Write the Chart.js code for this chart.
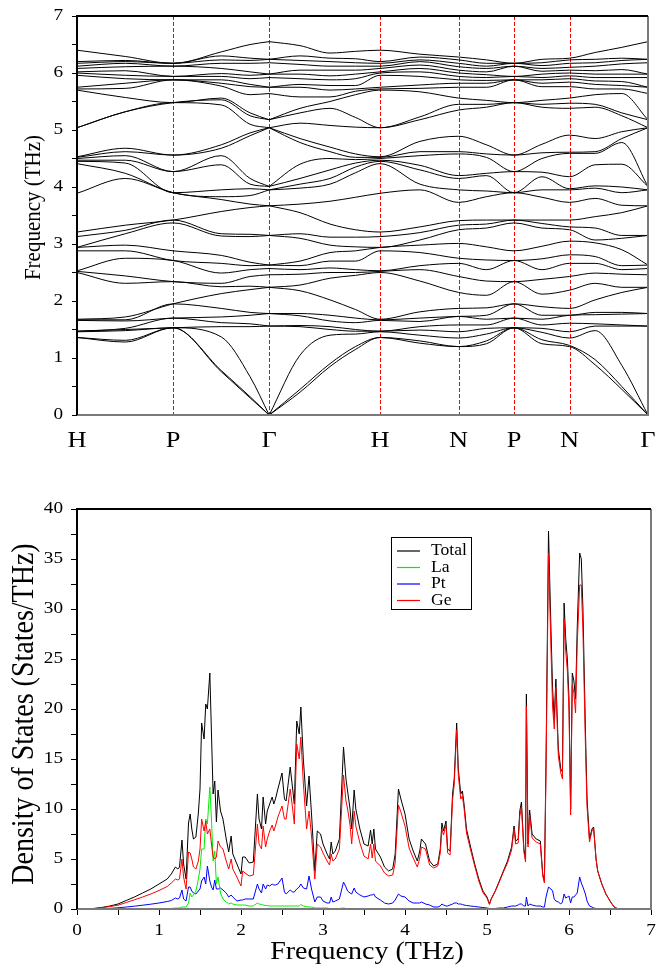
<!DOCTYPE html>
<html>
<head>
<meta charset="utf-8">
<script src="https://cdn.jsdelivr.net/npm/chart.js@4.4.0/dist/chart.umd.min.js"></script>
<style>
  html, body { margin: 0; padding: 0; background: #fff; }
  #bands { position: absolute; left: 0; top: 0; }
  #dos { position: absolute; left: 0; top: 490px; }
</style>
</head>
<body>
<canvas id="bands" width="669" height="460"></canvas>
<canvas id="dos" width="669" height="479"></canvas>
<script>
// high-symmetry path, distances in units of 2pi/a
const kLabels = ['H', 'P', 'Γ', 'H', 'N', 'P', 'N', 'Γ'];
const kTicks = [0, 0.866, 1.732, 2.732, 3.439, 3.939, 4.439, 5.146];

// k positions where the branches are sampled (index 5 is the first Gamma)
const kSamples = [0, 0.435, 0.866, 1.30, 1.56, 1.732, 2.01, 2.28, 2.51, 2.732,
                  3.09, 3.439, 3.69, 3.939, 4.19, 4.439, 4.67, 4.91, 5.146];

// 36 phonon frequencies (THz) at each sample, lowest first
const atH = [1.36, 1.36, 1.46, 1.47, 1.47, 1.66, 1.67, 1.68,
  2.50, 2.52, 2.53, 2.88, 2.94, 2.94, 3.13, 3.21,
  3.89, 4.41, 4.45, 4.47, 4.50, 4.52, 4.53,
  5.04, 5.04, 5.70, 5.72, 5.75, 5.96, 6.00, 6.02, 6.08, 6.12, 6.17, 6.20, 6.40];
const atP = [1.53, 1.53, 1.53, 1.53, 1.70, 1.70, 1.95, 1.95,
  2.34, 2.34, 2.71, 2.71, 2.88, 3.37, 3.42, 3.42,
  3.90, 3.90, 3.90, 4.27, 4.27, 4.56, 4.56,
  5.48, 5.48, 5.48, 5.88, 5.88, 5.88, 5.94, 5.94, 6.12, 6.12, 6.17, 6.17, 6.17];
const atGamma = [0, 0, 0, 1.56, 1.56, 1.78, 1.78, 2.24,
  2.24, 2.46, 2.57, 2.63, 2.63, 3.15, 3.15, 3.67,
  3.67, 3.95, 3.95, 4.01, 4.01, 5.04, 5.04,
  5.04, 5.18, 5.18, 5.64, 5.75, 5.75, 5.92, 5.98, 5.98, 6.18, 6.24, 6.24, 6.55];
const atN = [1.20, 1.20, 1.35, 1.46, 1.58, 1.73, 1.73, 1.87,
  2.15, 2.43, 2.66, 2.75, 3.01, 3.25, 3.33, 3.41,
  3.73, 3.95, 4.15, 4.20, 4.58, 4.62, 4.89,
  5.35, 5.45, 5.56, 5.75, 5.82, 5.88, 5.94, 6.00, 6.05, 6.11, 6.17, 6.23, 6.28];
const atN2 = [1.20, 1.22, 1.35, 1.46, 1.61, 1.75, 1.75, 1.87,
  2.19, 2.43, 2.66, 2.81, 3.05, 3.25, 3.30, 3.42,
  3.73, 3.95, 3.97, 4.18, 4.59, 4.61, 4.91,
  5.38, 5.47, 5.56, 5.76, 5.84, 5.90, 5.95, 6.00, 6.05, 6.10, 6.17, 6.23, 6.26];

const freqAtK = [
  atH,
  [1.28, 1.31, 1.48, 1.50, 1.52, 1.65, 1.67, 1.72,
   2.31, 2.44, 2.75, 2.88, 2.98, 3.18, 3.24, 3.33,
   4.15, 4.24, 4.42, 4.47, 4.55, 4.62, 4.68,
   5.32, 5.32, 5.57, 5.73, 5.82, 5.90, 5.96, 6.04, 6.11, 6.17, 6.20, 6.22, 6.29],
  atP,
  [0.76, 0.78, 1.37, 1.55, 1.62, 1.72, 1.87, 2.13,
   2.25, 2.31, 2.49, 2.66, 2.80, 3.14, 3.18, 3.57,
   3.78, 3.83, 3.95, 4.39, 4.55, 4.68, 4.74,
   5.44, 5.53, 5.56, 5.77, 5.82, 5.88, 5.94, 5.99, 6.08, 6.17, 6.23, 6.30, 6.37],
  [0.30, 0.32, 0.67, 1.55, 1.60, 1.75, 1.80, 2.20,
   2.26, 2.43, 2.55, 2.62, 2.68, 3.13, 3.17, 3.64,
   3.70, 3.85, 3.97, 4.05, 4.15, 4.90, 4.95,
   5.10, 5.25, 5.30, 5.62, 5.76, 5.80, 5.90, 5.96, 6.02, 6.17, 6.22, 6.26, 6.50],
  atGamma,
  [0.40, 0.45, 1.05, 1.55, 1.57, 1.74, 1.78, 2.18,
   2.28, 2.47, 2.55, 2.62, 2.70, 3.10, 3.18, 3.55,
   3.70, 3.98, 4.05, 4.15, 4.40, 4.78, 4.85,
   5.12, 5.30, 5.38, 5.58, 5.75, 5.80, 5.90, 5.98, 6.05, 6.15, 6.22, 6.30, 6.48],
  [0.85, 0.90, 1.40, 1.50, 1.55, 1.65, 1.75, 2.02,
   2.40, 2.50, 2.58, 2.70, 2.85, 2.98, 3.12, 3.35,
   3.75, 4.05, 4.15, 4.30, 4.50, 4.62, 4.70,
   5.08, 5.38, 5.50, 5.58, 5.70, 5.78, 5.88, 5.95, 6.05, 6.12, 6.20, 6.26, 6.35],
  [1.15, 1.20, 1.42, 1.47, 1.50, 1.62, 1.70, 1.85,
   2.45, 2.50, 2.55, 2.70, 2.88, 2.95, 3.12, 3.25,
   3.82, 4.25, 4.35, 4.42, 4.48, 4.52, 4.58,
   5.05, 5.22, 5.62, 5.68, 5.72, 5.78, 5.90, 5.98, 6.05, 6.12, 6.18, 6.25, 6.38],
  atH,
  [1.26, 1.30, 1.40, 1.49, 1.55, 1.64, 1.70, 1.81,
   2.35, 2.55, 2.62, 2.85, 2.98, 3.07, 3.20, 3.30,
   3.95, 4.05, 4.30, 4.38, 4.55, 4.62, 4.80,
   5.18, 5.23, 5.67, 5.73, 5.79, 5.94, 6.02, 6.08, 6.14, 6.20, 6.23, 6.28, 6.33],
  atN,
  [1.25, 1.30, 1.42, 1.52, 1.58, 1.68, 1.75, 1.88,
   2.10, 2.35, 2.55, 2.72, 2.95, 3.28, 3.35, 3.42,
   3.83, 3.93, 4.20, 4.24, 4.52, 4.58, 4.74,
   5.40, 5.45, 5.52, 5.75, 5.82, 5.87, 5.92, 5.97, 6.02, 6.08, 6.12, 6.17, 6.23],
  atP,
  [1.25, 1.32, 1.45, 1.52, 1.58, 1.68, 1.75, 1.90,
   2.12, 2.38, 2.55, 2.74, 2.96, 3.28, 3.36, 3.42,
   3.82, 3.95, 4.18, 4.26, 4.50, 4.60, 4.75,
   5.40, 5.45, 5.52, 5.76, 5.82, 5.88, 5.92, 5.98, 6.03, 6.08, 6.13, 6.18, 6.24],
  atN2,
  [0.88, 0.97, 1.48, 1.56, 1.60, 1.76, 1.80, 2.02,
   2.31, 2.49, 2.66, 2.78, 3.02, 3.07, 3.28, 3.48,
   3.80, 3.98, 4.02, 4.39, 4.59, 4.62, 4.85,
   5.40, 5.45, 5.62, 5.72, 5.80, 5.86, 5.92, 5.98, 6.04, 6.12, 6.18, 6.24, 6.36],
  [0.45, 0.50, 0.87, 1.56, 1.58, 1.77, 1.80, 2.15,
   2.24, 2.47, 2.55, 2.62, 2.90, 3.10, 3.15, 3.55,
   3.68, 3.90, 4.00, 4.40, 4.78, 4.85, 4.97,
   5.25, 5.30, 5.64, 5.72, 5.78, 5.85, 5.92, 5.98, 6.06, 6.16, 6.22, 6.26, 6.45],
  atGamma
];

// phonon DOS (States/THz) on a common frequency grid (THz)
const dosFreq = [
  0, 0.2, 0.3, 0.4, 0.5, 0.6, 0.7, 0.8, 0.9, 1.0,
  1.1, 1.15, 1.2, 1.23, 1.25, 1.28, 1.3, 1.33, 1.36, 1.38,
  1.4, 1.42, 1.45, 1.48, 1.5, 1.52, 1.55, 1.57, 1.59, 1.62,
  1.64, 1.66, 1.68, 1.7, 1.72, 1.75, 1.78, 1.82, 1.85, 1.88,
  1.9, 1.95, 2.0, 2.02, 2.05, 2.1, 2.15, 2.2, 2.22, 2.25,
  2.27, 2.3, 2.32, 2.35, 2.38, 2.4, 2.42, 2.45, 2.5, 2.53,
  2.55, 2.6, 2.63, 2.65, 2.68, 2.71, 2.73, 2.76, 2.8, 2.83,
  2.86, 2.9, 2.93, 2.97, 3.0, 3.05, 3.08, 3.1, 3.12, 3.15,
  3.2, 3.25, 3.28, 3.3, 3.33, 3.35, 3.38, 3.4, 3.45, 3.5,
  3.55, 3.58, 3.6, 3.62, 3.64, 3.7, 3.75, 3.8, 3.85, 3.88,
  3.92, 3.95, 4.0, 4.05, 4.1, 4.15, 4.18, 4.2, 4.25, 4.3,
  4.35, 4.4, 4.43, 4.45, 4.47, 4.5, 4.52, 4.55, 4.58, 4.6,
  4.63, 4.65, 4.68, 4.7, 4.72, 4.75, 4.8, 4.85, 4.9, 4.95,
  5.0, 5.03, 5.05, 5.1, 5.15, 5.2, 5.25, 5.3, 5.33, 5.35,
  5.38, 5.4, 5.42, 5.45, 5.47, 5.48, 5.5, 5.52, 5.55, 5.6,
  5.65, 5.68, 5.7, 5.72, 5.75, 5.78, 5.8, 5.82, 5.84, 5.87,
  5.9, 5.92, 5.94, 5.96, 5.98, 6.0, 6.02, 6.04, 6.06, 6.08,
  6.1, 6.13, 6.15, 6.17, 6.2, 6.22, 6.25, 6.28, 6.3, 6.33,
  6.35, 6.4, 6.45, 6.5, 6.55, 6.6, 6.75
];
const dosTotal = [
  0, 0.05, 0.15, 0.3, 0.5, 0.85, 1.2, 1.6, 2.0, 2.5,
  3.0, 3.5, 4.2, 4.0, 4.2, 6.9, 4.5, 3.0, 8.6, 9.5,
  8.0, 7.0, 7.2, 9.6, 12.0, 18.6, 17.0, 20.5, 20.0, 23.6,
  17.5, 11.5, 12.8, 8.7, 11.9, 9.8, 9.0, 7.0, 5.7, 7.3,
  5.5, 4.5, 3.5, 5.2, 5.2, 4.6, 4.7, 11.5, 9.0, 8.0,
  11.2, 8.5, 9.8, 10.5, 11.2, 10.5, 11.0, 12.0, 13.6, 11.0,
  10.8, 14.2, 12.0, 10.5, 18.8, 17.5, 20.2, 15.0, 10.3, 13.3,
  9.5, 3.8, 7.8, 7.5, 6.5, 5.5, 5.0, 6.7, 5.5, 5.8,
  7.0, 16.2, 13.0, 11.8, 10.0, 8.0, 11.9, 10.0, 8.0, 6.5,
  6.3, 7.9, 6.5, 8.0, 6.0, 5.2, 4.2, 3.8, 4.0, 5.5,
  12.0, 11.0, 9.5, 7.0, 5.8, 4.8, 5.8, 7.0, 6.5, 4.8,
  4.3, 4.5, 6.0, 8.6, 7.8, 8.8, 6.0, 5.8, 11.5, 13.0,
  18.6, 14.0, 11.5, 11.8, 10.5, 8.0, 6.2, 4.5, 3.0, 1.8,
  1.2, 0.5, 1.0, 1.8, 2.8, 3.8, 4.8, 6.2, 8.3, 6.8,
  7.0, 9.8, 10.7, 6.0, 5.0, 21.5, 6.5, 9.9, 7.5, 7.0,
  6.8, 3.5, 2.8, 15.0, 37.8, 28.0, 22.0, 19.0, 23.0, 16.0,
  14.0, 13.7, 30.6, 27.0, 25.0, 21.0, 10.0, 23.6, 22.8, 21.0,
  28.0, 35.6, 35.0, 30.0, 18.0, 11.0, 7.0, 8.0, 8.2, 5.0,
  3.8, 2.5, 1.5, 0.8, 0.2, 0, 0
];
const dosLa = [
  0, 0, 0, 0, 0, 0, 0, 0.02, 0.02, 0.05,
  0.05, 0.05, 0.1, 0.1, 0.1, 0.2, 0.2, 0.2, 0.6, 1.6,
  1.2, 1.4, 1.8, 3.0, 4.0, 6.0, 6.0, 9.0, 8.5, 12.2,
  9.0, 4.8, 5.8, 2.5, 3.2, 1.6, 1.0, 0.7, 0.5, 0.6,
  0.5, 0.4, 0.4, 0.4, 0.4, 0.3, 0.3, 0.6, 0.5, 0.45,
  0.4, 0.35, 0.35, 0.3, 0.3, 0.3, 0.3, 0.3, 0.3, 0.3,
  0.3, 0.3, 0.3, 0.3, 0.3, 0.3, 0.45, 0.3, 0.25, 0.2,
  0.2, 0.1, 0.1, 0.1, 0.1, 0.1, 0.05, 0.05, 0.05, 0.05,
  0.05, 0.1, 0.05, 0.05, 0.05, 0.05, 0.05, 0.05, 0.05, 0.05,
  0.05, 0.05, 0.05, 0.05, 0.05, 0.05, 0.05, 0.05, 0.05, 0.05,
  0.05, 0.05, 0.05, 0.05, 0.05, 0.05, 0.05, 0.05, 0.05, 0.05,
  0.03, 0.03, 0.03, 0.03, 0.03, 0.03, 0.03, 0.03, 0.03, 0.03,
  0.03, 0.03, 0.02, 0.02, 0.02, 0.02, 0.02, 0, 0, 0,
  0, 0, 0, 0, 0, 0, 0, 0, 0, 0,
  0, 0, 0, 0, 0, 0, 0, 0, 0, 0,
  0, 0, 0, 0, 0, 0, 0, 0, 0, 0,
  0, 0, 0, 0, 0, 0, 0, 0, 0, 0,
  0, 0, 0, 0, 0, 0, 0, 0, 0, 0,
  0, 0, 0, 0, 0, 0, 0
];
const dosPt = [
  0, 0.01, 0.03, 0.06, 0.12, 0.2, 0.28, 0.38, 0.48, 0.6,
  0.75, 0.85, 1.1, 1.0, 1.1, 1.9, 1.0, 0.8, 2.2, 2.2,
  1.8, 1.6, 1.5, 1.8, 2.0, 2.8, 3.2, 2.5, 4.3, 2.8,
  2.2, 1.9, 2.9, 2.0, 2.0, 2.1, 1.9, 1.6, 1.2, 1.4,
  1.2, 0.8, 0.9, 0.9, 1.0, 1.0, 1.0, 2.5, 2.0, 1.6,
  2.5, 2.0, 2.4, 2.3, 2.5, 2.4, 2.4, 2.5, 3.1, 1.7,
  1.5, 1.9, 1.7, 1.7, 2.0, 2.2, 2.5, 2.1, 2.0, 3.3,
  2.0, 0.7, 1.2, 1.2, 0.8, 0.6, 0.6, 1.2, 0.7, 0.8,
  1.0, 2.7, 2.2, 1.8, 1.6, 1.5, 2.1, 1.7, 1.4, 1.2,
  1.3, 1.4, 1.4, 1.5, 1.2, 0.9, 0.6, 0.5, 0.6, 0.9,
  1.5, 1.3, 1.2, 0.8, 0.6, 0.6, 0.6, 0.7, 0.5, 0.4,
  0.2, 0.2, 0.3, 0.5, 0.4, 0.3, 0.3, 0.4, 0.5, 0.6,
  0.6, 0.5, 0.5, 0.45, 0.4, 0.35, 0.3, 0.25, 0.2, 0.15,
  0.1, 0.05, 0.05, 0.05, 0.1, 0.1, 0.2, 0.3, 0.3, 0.3,
  0.4, 0.5, 0.5, 0.3, 0.3, 1.2, 0.3, 0.5, 0.4, 0.3,
  0.3, 0.2, 0.2, 1.2, 2.2, 2.0, 1.8, 1.0, 0.8, 0.7,
  0.5, 0.7, 1.5, 1.1, 1.2, 1.3, 0.6, 1.2, 1.2, 1.4,
  1.6, 3.2, 2.6, 2.2, 1.5, 0.8, 0.3, 0.2, 0.1, 0.05,
  0, 0, 0, 0, 0, 0, 0
];
const dosGe = [
  0, 0.04, 0.12, 0.24, 0.38, 0.65, 0.92, 1.2, 1.5, 1.85,
  2.25, 2.6, 3.0, 2.9, 3.0, 5.0, 3.2, 2.0, 5.7, 5.6,
  5.0, 4.2, 4.0, 4.8, 6.0, 9.0, 7.8, 8.8, 7.5, 8.0,
  6.5, 5.2, 5.0, 5.2, 6.8, 6.2, 6.0, 4.8, 4.0, 5.0,
  4.0, 3.2, 2.3, 3.8, 3.6, 3.3, 3.4, 8.5, 6.5, 6.0,
  8.3, 6.2, 7.0, 7.8, 8.4, 7.8, 8.3, 9.2, 10.3, 9.0,
  9.0, 12.0, 10.0, 8.5, 16.5, 15.0, 17.2, 12.6, 8.0, 9.8,
  7.3, 3.0, 6.5, 6.2, 5.6, 4.8, 4.4, 5.5, 4.8, 5.0,
  6.0, 13.4, 10.8, 10.0, 8.4, 6.5, 9.8, 8.3, 6.6, 5.3,
  5.0, 6.5, 5.1, 6.5, 4.8, 4.3, 3.6, 3.3, 3.4, 4.6,
  10.4, 9.7, 8.3, 6.1, 5.1, 4.2, 5.1, 6.2, 6.0, 4.4,
  4.1, 4.3, 5.6, 8.0, 7.4, 8.4, 5.6, 5.4, 10.9, 12.4,
  17.9, 13.4, 11.0, 11.3, 10.1, 7.6, 5.9, 4.3, 2.8, 1.65,
  1.1, 0.45, 0.95, 1.75, 2.7, 3.7, 4.6, 5.9, 8.0, 6.5,
  6.6, 9.3, 10.2, 5.7, 4.7, 20.3, 6.2, 9.4, 7.1, 6.7,
  6.5, 3.3, 2.6, 13.8, 35.6, 26.0, 20.2, 18.0, 22.2, 15.3,
  13.6, 13.0, 29.0, 25.8, 23.8, 19.8, 9.4, 22.4, 21.6, 19.6,
  26.4, 32.4, 32.4, 27.8, 16.5, 10.2, 6.7, 7.8, 8.1, 5.0,
  3.8, 2.5, 1.5, 0.8, 0.2, 0, 0
];

const seriesNames = ['Total', 'La', 'Pt', 'Ge'];
const seriesColors = ['#000000', '#00ee00', '#0000ff', '#ff0000'];

const SERIF = '"Liberation Serif", "Times New Roman", serif';
Chart.defaults.font.family = SERIF;

// lettering is drawn somewhat wide, the way the plotting program left it
function wideText(ctx, text, x, y, size, align, vertical, wide = 1.2) {
  ctx.save();
  ctx.translate(x, y);
  if (vertical) {
    ctx.rotate(-Math.PI / 2);
    ctx.scale(1, wide);
  } else {
    ctx.scale(wide, 1);
  }
  ctx.font = size + 'px ' + SERIF;
  ctx.fillStyle = '#000';
  ctx.textAlign = align;
  ctx.textBaseline = 'middle';
  ctx.fillText(text, 0, 0);
  ctx.restore();
}

function drawFrame(ctx, a) {
  ctx.save();
  ctx.lineWidth = 2;
  ctx.strokeStyle = '#7a7a7a';
  ctx.beginPath();
  ctx.moveTo(a.left, a.bottom);
  ctx.lineTo(a.right, a.bottom);
  ctx.lineTo(a.right, a.top);
  ctx.stroke();
  ctx.strokeStyle = '#000';
  ctx.beginPath();
  ctx.moveTo(a.right, a.top);
  ctx.lineTo(a.left, a.top);
  ctx.lineTo(a.left, a.bottom);
  ctx.stroke();
  ctx.restore();
}

// ---- band structure ----
const bandSets = atH.map((_, b) => {
  const pts = [];
  kSamples.forEach((k, i) => {
    pts.push({x: k, y: freqAtK[i][b]});
    if (i === 5) {
      // break the curve at Gamma so the acoustic branches keep their kink
      pts.push({x: k, y: null});
      pts.push({x: k, y: freqAtK[i][b]});
    }
  });
  return {
    data: pts,
    borderColor: '#000',
    borderWidth: 1,
    pointRadius: 0,
    cubicInterpolationMode: 'monotone'
  };
});

const bandDecor = {
  id: 'bandDecor',
  beforeDatasetsDraw(chart) {
    const {ctx, chartArea: a, scales: {x}} = chart;
    ctx.save();
    ctx.strokeStyle = '#ff0000';
    ctx.lineWidth = 1;
    ctx.setLineDash([4, 2]);
    kTicks.slice(1, -1).forEach(k => {
      const px = Math.round(x.getPixelForValue(k)) + 0.5;
      ctx.beginPath();
      ctx.moveTo(px, a.top);
      ctx.lineTo(px, a.bottom);
      ctx.stroke();
    });
    ctx.restore();
  },
  afterDraw(chart) {
    const {ctx, chartArea: a, scales: {x, y}} = chart;
    drawFrame(ctx, a);
    y.ticks.filter(t => Number.isInteger(t.value)).forEach(t => {
      wideText(ctx, String(t.value), a.left - 14, y.getPixelForValue(t.value), 16, 'right');
    });
    kTicks.forEach((k, i) => {
      wideText(ctx, kLabels[i], x.getPixelForValue(k), 441, 24, 'center', false, 1.1);
    });
    wideText(ctx, 'Frequency (THz)', 34, (a.top + a.bottom) / 2 - 8, 21, 'center', true, 1.1);
  }
};

new Chart(document.getElementById('bands'), {
  type: 'line',
  data: {datasets: bandSets},
  options: {
    responsive: false,
    animation: false,
    devicePixelRatio: 1,
    layout: {padding: {top: 16, right: 21, left: 0, bottom: 0}},
    plugins: {legend: {display: false}, tooltip: {enabled: false}},
    scales: {
      x: {
        type: 'linear', min: 0, max: 5.146,
        grid: {display: false}, border: {display: false},
        ticks: {display: false},
        afterFit: s => { s.height = 45; }
      },
      y: {
        min: 0, max: 7,
        ticks: {display: false, stepSize: 0.5},
        grid: {drawOnChartArea: false, tickLength: 5, color: '#000'},
        border: {display: false},
        afterFit: s => { s.width = 77; }
      }
    }
  },
  plugins: [bandDecor]
});

// ---- density of states ----
const xy = vals => dosFreq.map((f, i) => ({x: f, y: vals[i]}));

const dosDecor = {
  id: 'dosDecor',
  afterDraw(chart) {
    const {ctx, chartArea: a, scales: {x, y}} = chart;
    drawFrame(ctx, a);
    x.ticks.filter(t => Number.isInteger(t.value)).forEach(t => {
      wideText(ctx, String(t.value), x.getPixelForValue(t.value), a.bottom + 22, 16, 'center');
    });
    y.ticks.filter(t => t.value % 5 === 0).forEach(t => {
      wideText(ctx, String(t.value), a.left - 14, y.getPixelForValue(t.value), 16, 'right');
    });
    wideText(ctx, 'Frequency (THz)', (a.left + a.right) / 2 + 3, a.bottom + 43, 25, 'center', false, 1.12);
    wideText(ctx, 'Density of States (States/THz)', 25, (a.top + a.bottom) / 2 + 5, 28, 'center', true, 1.15);

    // legend box
    const bx = 391, by = 47, bw = 80, bh = 72;
    ctx.save();
    ctx.fillStyle = '#fff';
    ctx.fillRect(bx, by, bw, bh);
    ctx.strokeStyle = '#000';
    ctx.lineWidth = 1;
    ctx.strokeRect(bx + 0.5, by + 0.5, bw, bh);
    ctx.restore();
    seriesNames.forEach((name, i) => {
      const ly = by + 14 + i * 16.5;
      ctx.save();
      ctx.strokeStyle = seriesColors[i];
      ctx.lineWidth = 1.2;
      ctx.beginPath();
      ctx.moveTo(bx + 6, ly);
      ctx.lineTo(bx + 29, ly);
      ctx.stroke();
      ctx.restore();
      wideText(ctx, name, bx + 40, ly, 16, 'left', false, 1.1);
    });
  }
};

new Chart(document.getElementById('dos'), {
  type: 'line',
  data: {
    datasets: [
      {label: seriesNames[0], data: xy(dosTotal), borderColor: seriesColors[0], order: 4},
      {label: seriesNames[1], data: xy(dosLa), borderColor: seriesColors[1], order: 2},
      {label: seriesNames[2], data: xy(dosPt), borderColor: seriesColors[2], order: 3},
      {label: seriesNames[3], data: xy(dosGe), borderColor: seriesColors[3], order: 1}
    ]
  },
  options: {
    responsive: false,
    animation: false,
    devicePixelRatio: 1,
    layout: {padding: {top: 19, right: 18, left: 0, bottom: 0}},
    elements: {point: {radius: 0}, line: {borderWidth: 1, tension: 0}},
    plugins: {legend: {display: false}, tooltip: {enabled: false}},
    scales: {
      x: {
        type: 'linear', min: 0, max: 7,
        ticks: {display: false, stepSize: 0.5},
        grid: {drawOnChartArea: false, tickLength: 6, color: '#000'},
        border: {display: false},
        afterFit: s => { s.height = 60; }
      },
      y: {
        min: 0, max: 40,
        ticks: {display: false, stepSize: 2.5},
        grid: {drawOnChartArea: false, tickLength: 6, color: '#000'},
        border: {display: false},
        afterFit: s => { s.width = 77; }
      }
    }
  },
  plugins: [dosDecor]
});
</script>
</body>
</html>
